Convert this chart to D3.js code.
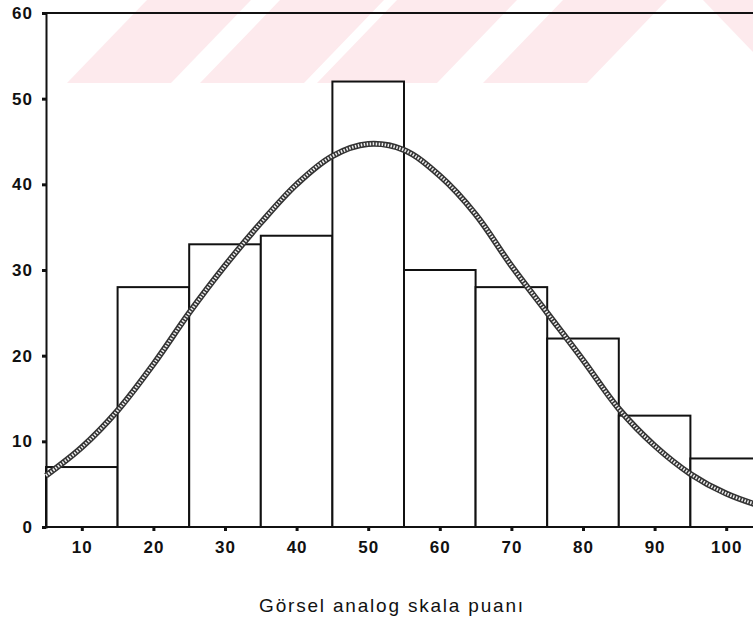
<!DOCTYPE html>
<html>
<head>
<meta charset="utf-8">
<script src="https://cdn.jsdelivr.net/npm/d3@7"></script>
<style>
  body { margin: 0; background: #fff; }
  svg { display: block; }
</style>
</head>
<body>
<div id="chart"></div>
<script>
// histogram data
var binCenters = [10, 20, 30, 40, 50, 60, 70, 80, 90, 100];
var counts = [7, 28, 33, 34, 52, 30, 28, 22, 13, 8];
var yTicks = [0, 10, 20, 30, 40, 50, 60];
var xTicks = [10, 20, 30, 40, 50, 60, 70, 80, 90, 100];

// normal curve
var curveX = [5, 10, 15, 20, 25, 30, 35, 40, 45, 50, 55, 60, 65, 70, 75, 80, 85, 90, 95, 100, 105];
var curveY = [6, 9.3, 13.6, 19, 25, 30.5, 35.5, 40, 43.3, 44.7, 44, 41, 36.5, 30.5, 25, 19.5, 13.8, 9.5, 6.2, 3.9, 2.4];

var xTitle = "Görsel analog skala puanı";

var W = 753, H = 625;
var plotLeft = 46, plotTop = 13, plotBottom = 527;

var svg = d3.select("#chart")
    .append("svg")
    .attr("width", W)
    .attr("height", H);

// faint pink watermark band at the top (scan artefact)
var stripes = [67, 200, 317, 483];
var band = svg.append("g");
stripes.forEach(function(s, i) {
    var w = (i == 2) ? 120 : 104;
    band.append("polygon")
        .attr("points", [[s, 83], [s + w, 83], [s + w + 80, 0], [s + 80, 0]].join(" "))
        .attr("fill", "#fdeaed");
});
band.append("polygon")
    .attr("points", [[703, 0], [753, 0], [753, 52]].join(" "))
    .attr("fill", "#fdeaed");

var x = d3.scaleLinear()
    .domain([5, 105])
    .range([plotLeft, plotLeft + 716]);

var y = d3.scaleLinear()
    .domain([0, 60])
    .range([plotBottom, plotTop]);

// bars
svg.selectAll("rect.bar")
    .data(binCenters)
    .enter()
    .append("rect")
    .attr("class", "bar")
    .attr("x", function(d) { return x(d - 5); })
    .attr("width", function(d) { return x(d + 5) - x(d - 5); })
    .attr("y", function(d, i) { return y(counts[i]); })
    .attr("height", function(d, i) { return y(0) - y(counts[i]); })
    .attr("fill", "white")
    .attr("stroke", "#111")
    .attr("stroke-width", 2);

// frame top line
svg.append("line")
    .attr("x1", plotLeft).attr("x2", W)
    .attr("y1", y(60)).attr("y2", y(60))
    .attr("stroke", "#111")
    .attr("stroke-width", 2);

// y axis
var yAxis = svg.append("g")
    .attr("transform", "translate(" + plotLeft + ",0)")
    .call(d3.axisLeft(y).tickValues(yTicks).tickSize(4).tickPadding(9));
yAxis.select(".domain").attr("stroke", "#111").attr("stroke-width", 2);
yAxis.selectAll(".tick line").attr("stroke", "#111").attr("stroke-width", 3);

// x axis
var xAxis = svg.append("g")
    .attr("transform", "translate(0," + plotBottom + ")")
    .call(d3.axisBottom(x).tickValues(xTicks).tickSize(4).tickPadding(10));
xAxis.select(".domain").attr("d", "M" + plotLeft + ",0H" + W).attr("stroke", "#111").attr("stroke-width", 2);
xAxis.selectAll(".tick line").attr("stroke", "#111").attr("stroke-width", 3);

svg.selectAll(".tick text")
    .style("font-family", "'Liberation Sans', Arial, sans-serif")
    .style("font-size", "17px")
    .style("font-weight", "bold")
    .style("letter-spacing", "1px")
    .attr("fill", "#111");

// normal curve (hatched grey band)
var pts = curveX.map(function(d, i) { return [d, curveY[i]]; });
var line = d3.line()
    .x(function(d) { return x(d[0]); })
    .y(function(d) { return y(d[1]); })
    .curve(d3.curveCatmullRom);

svg.append("path")
    .attr("d", line(pts))
    .attr("fill", "none")
    .attr("stroke", "#333")
    .attr("stroke-width", 6);
svg.append("path")
    .attr("d", line(pts))
    .attr("fill", "none")
    .attr("stroke", "#eee")
    .attr("stroke-width", 3)
    .attr("stroke-dasharray", "1.5 1.5");

// x title
svg.append("text")
    .attr("x", 392)
    .attr("y", 612)
    .attr("text-anchor", "middle")
    .style("font-family", "'Liberation Sans', Arial, sans-serif")
    .style("font-size", "19px")
    .style("letter-spacing", "1.8px")
    .attr("fill", "#111")
    .text(xTitle);
</script>
</body>
</html>
